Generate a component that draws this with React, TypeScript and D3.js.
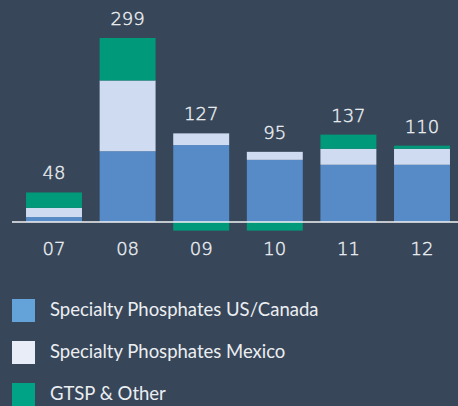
import { scaleBand, scaleLinear, stack, stackOffsetDiverging } from 'd3';

const categories = ['07', '08', '09', '10', '11', '12'];
const usCanada = [8, 115, 125, 101, 93, 93];
const mexico = [15, 115, 19, 13, 26, 26];
const gtspOther = [25, 69, -14, -14, 23, 5];
const totals = [48, 299, 127, 95, 137, 110];

const seriesNames = ['Specialty Phosphates US/Canada', 'Specialty Phosphates Mexico', 'GTSP & Other'];
const barColors = ['#568bc8', '#cfdbf1', '#009a7a'];
const legendColors = ['#64a3da', '#e8edf7', '#00a386'];

const WIDTH = 458;
const HEIGHT = 406;
const BG = '#374759';
const TEXT = '#eceef2';

export default function App() {
  const rows = categories.map((c, i) => ({ cat: c, s0: usCanada[i], s1: mexico[i], s2: gtspOther[i] }));
  const series = stack<any>().keys(['s0', 's1', 's2']).offset(stackOffsetDiverging)(rows);

  const x = scaleBand<string>()
    .domain(categories)
    .range([17.2, 458.8])
    .paddingInner(0.24)
    .paddingOuter(0.12);
  const y = scaleLinear().domain([0, 299]).range([222, 38]);

  return (
    <div style={{ position: 'fixed', left: 0, top: 0 }}>
      <svg width={WIDTH} height={HEIGHT} style={{ display: 'block', background: BG }}>
        <rect width={WIDTH} height={HEIGHT} fill={BG} />
        {series.map((s, si) => (
          <g key={si} fill={barColors[si]}>
            {s.map((d, i) => {
              const top = y(Math.max(d[0], d[1]));
              const bottom = y(Math.min(d[0], d[1]));
              return (
                <rect
                  key={i}
                  x={x(categories[i])}
                  y={top}
                  width={x.bandwidth()}
                  height={Math.max(0, bottom - top)}
                />
              );
            })}
          </g>
        ))}
        <line x1={12} x2={WIDTH} y1={y(0)} y2={y(0)} stroke="#f2f3f6" strokeWidth={1.5} />
        <g
          fontFamily="'DejaVu Sans', sans-serif"
          fontSize={18}
          fontWeight={200}
          fill={TEXT}
          stroke={TEXT}
          strokeWidth={0.4}
          textAnchor="middle"
        >
          {categories.map((c, i) => {
            const topPos = usCanada[i] + mexico[i] + Math.max(0, gtspOther[i]);
            return (
              <g key={c}>
                <text x={x(c)! + x.bandwidth() / 2} y={y(topPos) - 13}>
                  {totals[i]}
                </text>
                <text x={x(c)! + x.bandwidth() / 2} y={255}>
                  {c}
                </text>
              </g>
            );
          })}
        </g>
        <g fontFamily="Lato, sans-serif" fontSize={18.5} fill={TEXT}>
          {seriesNames.map((n, i) => (
            <g key={n} transform={`translate(12, ${299 + i * 42})`}>
              <rect width={23} height={23} fill={legendColors[i]} />
              <text x={38} y={17}>
                {n}
              </text>
            </g>
          ))}
        </g>
      </svg>
    </div>
  );
}
